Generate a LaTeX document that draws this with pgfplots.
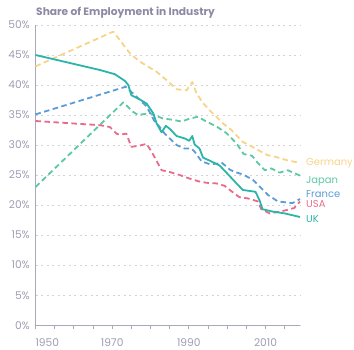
\documentclass[border=0pt]{standalone}
\usepackage{pgfplots}
\pgfplotsset{compat=1.18}
\usepackage{fontspec}
\setmainfont{Poppins}
\definecolor{txtgray}{HTML}{9F9DB3}
\definecolor{titlegray}{HTML}{8C89A3}
\definecolor{axgray}{HTML}{AAA8BA}
\definecolor{gridgray}{HTML}{D2D2D8}
\definecolor{cGer}{HTML}{F6D488}
\definecolor{cJap}{HTML}{5CC9A2}
\definecolor{cFra}{HTML}{5B9CD8}
\definecolor{cUSA}{HTML}{EA6B89}
\definecolor{cUK}{HTML}{2BB5A8}
\begin{document}
\begin{tikzpicture}
\path[use as bounding box] (0,0) rectangle (354bp,350bp);
\begin{axis}[
  at={(35.5bp,25bp)}, anchor=south west,
  scale only axis, width=264.5bp, height=300bp,
  xmin=1950, xmax=2019, ymin=0, ymax=50,
  axis x line*=bottom, axis y line*=left,
  axis line style={axgray, line width=0.9bp},
  xtick={1950,1970,1990,2010},
  xticklabels={\makebox[0pt][l]{1950},1970,1990,2010},
  minor xtick={1955,1960,1965,1975,1980,1985,1995,2000,2005,2015},
  ytick={0,5,...,50},
  yticklabels={0\%,5\%,10\%,15\%,20\%,25\%,30\%,35\%,40\%,45\%,50\%},
  tick style={axgray, line width=0.7bp},
  xtick align=outside, major tick length=3.5bp, minor tick length=3.5bp,
  ytick style={draw=none},
  ymajorgrids, grid style={gridgray, line width=0.7bp, dash pattern=on 2bp off 3.5bp},
  every tick label/.append style={font=\fontsize{10.7}{12}\selectfont, text=txtgray, inner sep=0pt},
  xticklabel style={anchor=base, yshift=-17.7bp},
  yticklabel style={anchor=base east, xshift=-5.5bp, yshift=-4bp},
  clip=false,
  every axis plot/.append style={line width=1.8bp, line join=round},
]
% Germany
\addplot[cGer, dash pattern=on 5.5bp off 3.5bp] coordinates {
(1950,43.1) (1970.3,48.9) (1974.6,45.3) (1977.2,43.9) (1981.6,42.2) (1984.2,40.8)
(1986.8,39.3) (1989.4,39.1) (1990.9,40.5) (1992,38.6) (1993.7,37.0) (1995.4,35.8)
(1997.2,34.7) (1998.9,33.6) (2001.1,32.5) (2002.6,31.5) (2004.1,30.5) (2006.3,29.8)
(2008.5,29.0) (2010.6,28.3) (2012.8,28.0) (2015.4,27.5) (2019,27.0)};
% Japan
\addplot[cJap, dash pattern=on 5.5bp off 3.5bp] coordinates {
(1950,23.0) (1972.9,37.1) (1975.5,35.5) (1976.8,35.0) (1979.8,35.3) (1983.3,34.4)
(1985.9,34.2) (1988.1,33.9) (1990.2,34.4) (1992.4,34.7) (1994.6,33.9) (1997.2,33.1)
(1999.8,32.0) (2002.4,30.3) (2004.3,28.5) (2006.5,28.2) (2008,27.0) (2009.8,25.8)
(2011.5,26.1) (2013.7,25.4) (2015.8,25.8) (2019,24.9)};
% France
\addplot[cFra, dash pattern=on 5.5bp off 3.5bp] coordinates {
(1950,35.1) (1973.5,39.7) (1976.3,38.1) (1979,36.4) (1981.1,33.9) (1982.4,33.0)
(1983.7,31.9) (1985,31.1) (1986.8,30.0) (1988.9,29.4) (1990.7,29.4) (1991.5,28.9)
(1993.3,27.3) (1995.4,26.8) (1997.6,26.9) (1998.5,27.1) (2000.7,25.9) (2002,25.5)
(2004.1,25.1) (2006.7,24.2) (2008.9,22.8) (2010.6,21.7) (2013.2,20.6) (2015.8,20.4)
(2017,20.3) (2019,21.0)};
% USA
\addplot[cUSA, dash pattern=on 5.5bp off 3.5bp] coordinates {
(1950,34.0) (1966.8,33.3) (1969.4,33.0) (1971.1,31.9) (1972,31.7) (1973.7,31.9)
(1975,29.7) (1977.2,29.9) (1979,30.2) (1980.7,28.4) (1982.9,25.8) (1985,25.5)
(1987.6,25.0) (1990.2,24.4) (1992.8,23.9) (1994.6,23.7) (1997.2,23.6) (1999.3,23.2)
(2001.1,22.3) (2003.2,21.3) (2005.4,21.1) (2008,20.6) (2008.9,19.3) (2011.1,18.6)
(2013.7,18.9) (2015.8,19.2) (2017.5,19.5) (2019,20.6)};
% UK
\addplot[cUK] coordinates {
(1950,45.0) (1966.8,42.5) (1970.7,41.8) (1973.3,40.7) (1974.2,40.0) (1975,38.3)
(1977.2,37.6) (1979,36.9) (1980.7,35.3) (1981.6,33.6) (1982.9,32.1) (1984,33.2)
(1985.2,32.6) (1986.8,31.5) (1988.9,31.1) (1990.1,30.7) (1990.9,31.5) (1991.5,30.1)
(1992.8,29.4) (1993.7,27.9) (1995.4,27.4) (1998,26.6) (1999.8,25.4) (2002,23.9)
(2004.1,22.5) (2007.4,22.2) (2008.5,20.7) (2009.2,19.3) (2011.9,18.9) (2015,18.6)
(2019,18.0)};
\end{axis}
\node[anchor=base west, inner sep=0pt, text=titlegray, font=\bfseries\fontsize{10.7}{12}\selectfont] at (36bp,334.3bp) {Share of Employment in Industry};
\begin{scope}[every node/.style={anchor=base west, inner sep=0pt, font=\fontsize{10}{12}\selectfont}]
\node[text=cGer] at (306bp,184.3bp) {Germany};
\node[text=cJap] at (306bp,166.7bp) {Japan};
\node[text=cFra] at (306bp,152.3bp) {France};
\node[text=cUSA] at (306bp,142.3bp) {USA};
\node[text=cUK] at (306bp,127.3bp) {UK};
\end{scope}
\end{tikzpicture}
\end{document}
